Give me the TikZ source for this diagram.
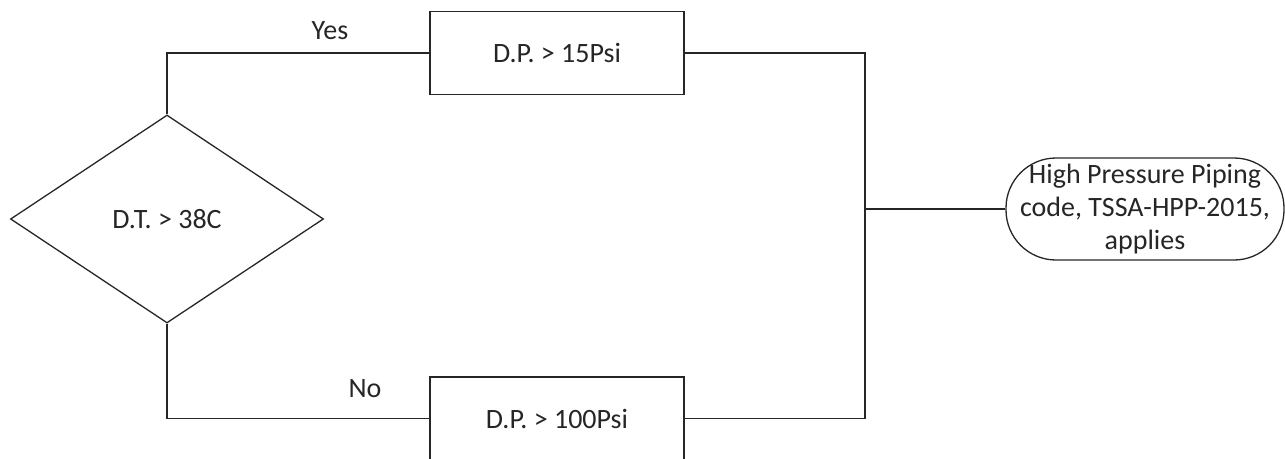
\documentclass[tikz,border=0pt]{standalone}
\usepackage{fontspec}
\setmainfont{Carlito}
\usetikzlibrary{shapes.geometric}
\begin{document}
\begin{tikzpicture}[x=1pt,y=-1pt,
  every node/.style={font=\fontsize{28}{33}\selectfont, text=black!85},
  conn/.style={draw=black!85, line width=1.3pt},
  decision/.style={shape=diamond, draw=black!85, line width=1.3pt, inner sep=0pt,
    minimum width=313pt, minimum height=208pt},
  procbox/.style={shape=rectangle, draw=black!85, line width=1.3pt, inner sep=0pt,
    minimum width=254pt, minimum height=83pt},
  terminal/.style={shape=rectangle, rounded corners=50pt, draw=black!85, line width=1.3pt,
    inner sep=0pt, minimum width=278pt, minimum height=102pt, align=center},
  tag/.style={inner sep=0pt}]
  \useasboundingbox (0,0) rectangle (1285,458);

  % decision and the two pressure checks
  \node[decision] (dt) at (167,219) {D.T. > 38C};
  \node[procbox] (p15) at (557,53) {D.P. > 15Psi};
  \node[procbox] (p100) at (557,418.5) {D.P. > 100Psi};

  % outcome
  \node[terminal] (hpp) at (1145,209) {High Pressure Piping\\code, TSSA-HPP-2015,\\applies};

  % merge point of the two branches
  \coordinate (j) at (865,209);

  % branches
  \draw[conn] (dt.north) |- (p15.west);
  \draw[conn] (dt.south) |- (p100.west);
  \draw[conn] (p15.east) -| (j);
  \draw[conn] (p100.east) -| (j);
  \draw[conn] (j) -- (hpp.west);

  % branch labels
  \node[tag] (yes) at (330,31) {Yes};
  \node[tag] (no) at (365,389) {No};
\end{tikzpicture}
\end{document}
